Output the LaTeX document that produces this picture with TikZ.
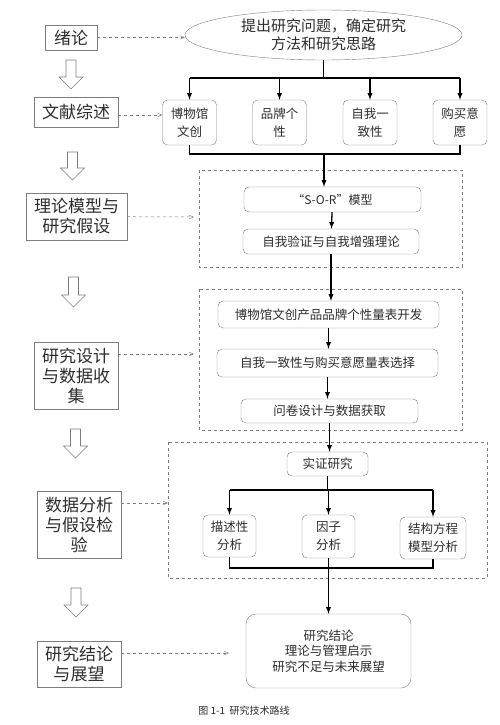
\documentclass[tikz,border=0pt]{standalone}
\usepackage{fontspec}
\setmainfont{Noto Sans CJK SC}
\usetikzlibrary{arrows}
\usetikzlibrary{shapes}
\usetikzlibrary{backgrounds,positioning}
\usepackage{xcolor}
\definecolor{boxgray}{RGB}{125,125,125}
\definecolor{txtgray}{RGB}{45,45,45}

\tikzset{
  stage/.style={draw=boxgray,rectangle,align=center,inner sep=0pt,text=txtgray,
                font=\fontsize{17}{20}\selectfont},
  item/.style={draw=boxgray,rounded corners=5pt,align=center,inner sep=0pt,text=txtgray,
               font=\fontsize{12.5}{18}\selectfont},
  link/.style={->,>=latex,line width=1.3pt},
  bar/.style={line width=1.3pt},
  hint/.style={->,>=angle 45,dashed,boxgray,line width=0.5pt},
  frame/.style={draw=boxgray,dashed,line width=0.5pt},
  hollow/.style={draw=boxgray,line width=0.6pt,fill=white}
}

\begin{document}
\begin{tikzpicture}[x=1pt,y=-1pt]
      \useasboundingbox (0,0) rectangle (499,725);

      % dashed frames
      \draw[frame] (199,170) rectangle (462,267);
      \draw[frame] (199,289) rectangle (462,430);
      \draw[frame] (168,442) rectangle (487,578);

      % stages on the left
      \node[stage,minimum width=52,minimum height=25] (intro)    at (71,37.5)  {绪论};
      \node[stage,minimum width=84,minimum height=30] (review)   at (76,112)   {文献综述};
      \node[stage,minimum width=101,minimum height=47] (theory)  at (76.5,216.5) {理论模型与\\研究假设};
      \node[stage,minimum width=84,minimum height=67] (design)   at (76,375.5) {研究设计\\与数据收\\集};
      \node[stage,minimum width=84,minimum height=67] (analysis) at (79,524.5) {数据分析\\与假设检\\验};
      \node[stage,minimum width=84,minimum height=46] (concl)    at (79,664)   {研究结论\\与展望};

      % hollow arrows between stages
      \draw[hollow] (66,60) -- (76,60) -- (76,77) -- (83,77) -- (71,89) -- (59,77) -- (66,77) -- cycle;
      \draw[hollow] (67.5,152) -- (77.5,152) -- (77.5,168) -- (84.5,168) -- (72.5,180) -- (60.5,168) -- (67.5,168) -- cycle;
      \draw[hollow] (68.5,277) -- (78.5,277) -- (78.5,295) -- (85.5,295) -- (73.5,307) -- (61.5,295) -- (68.5,295) -- cycle;
      \draw[hollow] (70.5,429) -- (80.5,429) -- (80.5,446) -- (87.5,446) -- (75.5,458) -- (63.5,446) -- (70.5,446) -- cycle;
      \draw[hollow] (71,588) -- (81,588) -- (81,605) -- (88,605) -- (76,617) -- (64,605) -- (71,605) -- cycle;

      % contents on the right
      \node[ellipse,draw=boxgray,inner sep=0pt,minimum width=277,minimum height=50,align=center,
            text=txtgray,font=\fontsize{15}{18}\selectfont] (question) at (323.5,35)
            {提出研究问题，确定研究\\方法和研究思路};

      \node[item,minimum width=54,minimum height=45] (museum)  at (189.5,122.5) {博物馆\\文创};
      \node[item,minimum width=54,minimum height=45] (brand)   at (279.5,122.5) {品牌个\\性};
      \node[item,minimum width=54,minimum height=45] (selfcon) at (370,122.5)   {自我一\\致性};
      \node[item,minimum width=54,minimum height=45] (intent)  at (460,122.5)   {购买意\\愿};

      \node[item,minimum width=177,minimum height=25,font=\fontsize{12}{14}\selectfont] (sor) at (332.5,199.5) {“S-O-R”模型};
      \node[item,minimum width=176,minimum height=25] (verify) at (331,241.5) {自我验证与自我增强理论};

      \node[item,minimum width=221,minimum height=27] (scale)  at (328.5,314.5) {博物馆文创产品品牌个性量表开发};
      \node[item,minimum width=221,minimum height=28] (select) at (327.5,363)   {自我一致性与购买意愿量表选择};
      \node[item,minimum width=177,minimum height=24] (survey) at (329.5,411)   {问卷设计与数据获取};

      \node[item,minimum width=81,minimum height=24] (empir)  at (327.5,464)  {实证研究};
      \node[item,minimum width=53,minimum height=42] (desc)   at (229.5,536)  {描述性\\分析};
      \node[item,minimum width=53,minimum height=43] (factor) at (328.5,536.5) {因子\\分析};
      \node[item,minimum width=66,minimum height=42] (sem)    at (433,538)    {结构方程\\模型分析};

      \node[item,rounded corners=10pt,minimum width=165,minimum height=74,
            font=\fontsize{12.5}{15.5}\selectfont] (result) at (328.5,651)
            {研究结论\\理论与管理启示\\研究不足与未来展望};

      \node[text=txtgray,font=\fontsize{10}{12}\selectfont] (caption) at (244,711) {图 1-1\ \ 研究技术路线};

      % dashed hints from stages
      \draw[hint] (intro.east)  -- (question.west |- intro.east);
      \draw[hint] (review.east |- 0,115) -- (museum.west |- 0,115);
      \draw[hint] (theory)   -- (194,217);
      \draw[hint] (design.east |- 0,354)   -- (194,354);
      \draw[hint] (analysis.east |- 0,503) -- (168,503);
      \draw[hint] (concl.east |- 0,653)    -- (229,653);

      % flow
      \coordinate (split1) at (323.5,78);
      \coordinate (merge1) at (324,154);
      \coordinate (split2) at (327.5,490);
      \coordinate (merge2) at (328.5,568);

      \draw[bar]  (question.south) -- (split1);
      \draw[bar]  (museum |- split1) -- (intent |- split1);
      \draw[link] (museum |- split1)  -- (museum);
      \draw[link] (brand |- split1)   -- (brand);
      \draw[link] (selfcon |- split1) -- (selfcon);
      \draw[link] (intent |- split1)  -- (intent);

      \draw[bar]  (museum.south) |- (merge1) -| (intent.south);
      \draw[link] (merge1) -- (merge1 |- sor.north);
      \draw[link] (sor) -- (verify);
      \draw[link] (verify) -- (verify.south |- scale.north);
      \draw[link] (scale) -- (scale.south |- select.north);
      \draw[link] (select) -- (select.south |- survey.north);
      \draw[link] (survey) -- (survey.south |- empir.north);

      \draw[bar]  (empir.south) -- (split2);
      \draw[bar]  (desc |- split2) -- (sem |- split2);
      \draw[link] (desc |- split2)   -- (desc);
      \draw[link] (factor |- split2) -- (factor);
      \draw[link] (sem |- split2)    -- (sem);

      \draw[bar]  (desc.south) |- (merge2) -| (sem.south);
      \draw[link] (factor.south) -- (factor.south |- result.north);
\end{tikzpicture}
\end{document}
